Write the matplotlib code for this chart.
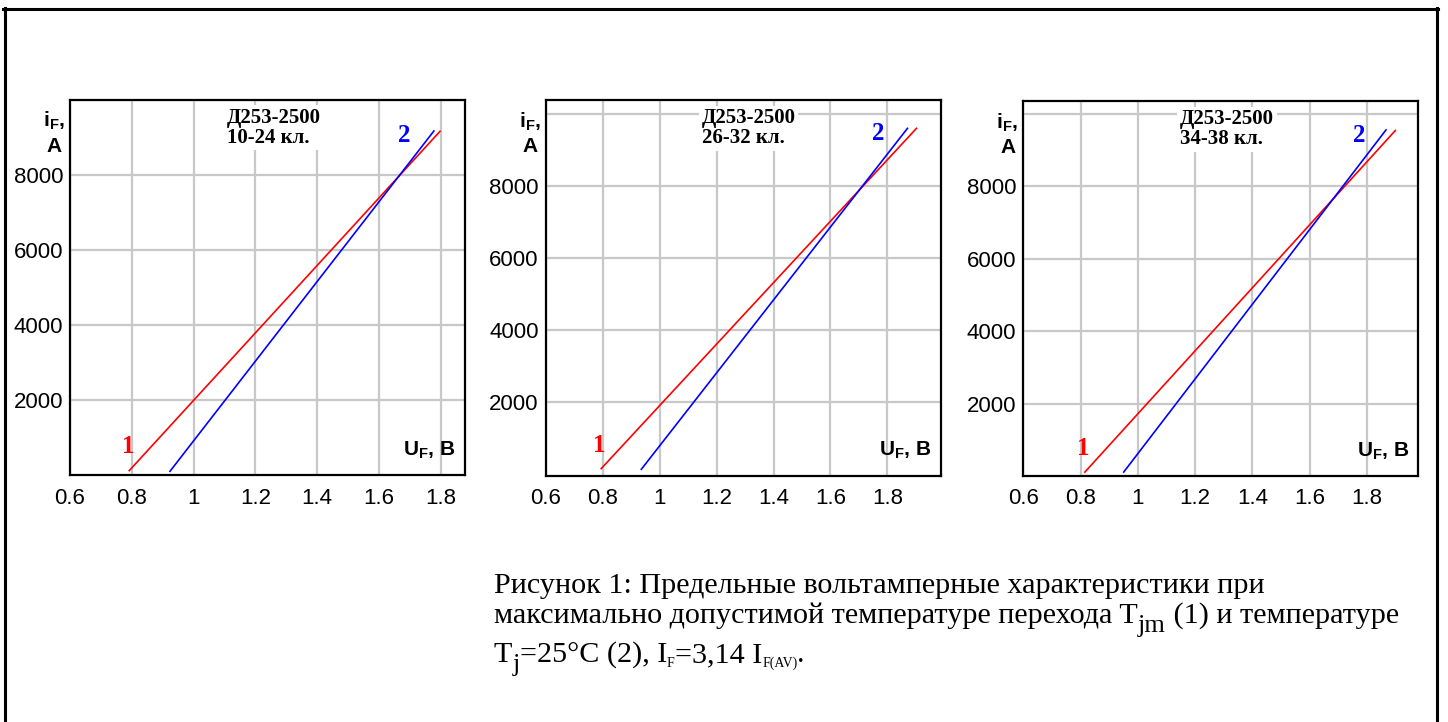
import matplotlib
matplotlib.use("Agg")
import matplotlib.pyplot as plt
from matplotlib.lines import Line2D

plt.rcParams['mathtext.fontset'] = 'custom'
plt.rcParams['mathtext.rm'] = 'Liberation Sans'
plt.rcParams['mathtext.bf'] = 'Liberation Sans:bold'

W, H = 1448, 722

# ---------------- data ----------------
titles = ["Д253-2500\n10-24 кл.", "Д253-2500\n26-32 кл.", "Д253-2500\n34-38 кл."]
x_ticks = [0.6, 0.8, 1.0, 1.2, 1.4, 1.6, 1.8]
x_ticklabels = ["0.6", "0.8", "1", "1.2", "1.4", "1.6", "1.8"]
y_ticks = [2000, 4000, 6000, 8000, 10000]
y_ticklabels = ["2000", "4000", "6000", "8000", ""]

# curve 1 (Tjm, red)
uf_tjm = [[0.79, 1.80], [0.793, 1.904], [0.813, 1.902]]
if_tjm = [[100, 9170], [130, 9620], [90, 9564]]
# curve 2 (Tj = 25 C, blue)
uf_25 = [[0.922, 1.78], [0.934, 1.872], [0.949, 1.869]]
if_25 = [[80, 9180], [110, 9620], [90, 9580]]

# label positions (data)
lab1_pos = [(0.79, 750), (0.787, 790), (0.81, 760)]
lab2_pos = [(1.683, 9050), (1.768, 9450), (1.775, 9400)]
title_x = [1.108, 1.148, 1.148]

# ---------------- layout ----------------
panels_px = [  # left, right, top, bottom
    (70, 465, 99.5, 475),
    (545.7, 941, 100, 475.7),
    (1023.3, 1418.3, 101, 476),
]
xlims = [(0.6, 1.879), (0.6, 1.988), (0.6, 1.980)]
ylims = [(0, 9910), (-50, 10390), (0, 10360)]

RED = "#ff0000"
BLUE = "#0000ff"
GRID = "#c8c8c8"

fig = plt.figure(figsize=(W / 100, H / 100), dpi=100)
fig.patch.set_facecolor("white")

for i, (l, r, t, b) in enumerate(panels_px):
    ax = fig.add_axes([l / W, 1 - b / H, (r - l) / W, (b - t) / H])
    ax.set_xlim(*xlims[i])
    ax.set_ylim(*ylims[i])
    ax.set_xticks(x_ticks)
    ax.set_xticklabels(x_ticklabels)
    ax.set_yticks(y_ticks)
    ax.set_yticklabels(y_ticklabels)
    ax.tick_params(length=0, labelsize=16)
    ax.tick_params(axis='x', pad=9)
    ax.tick_params(axis='y', pad=5)
    for lab in ax.get_xticklabels() + ax.get_yticklabels():
        lab.set_family("Liberation Sans")
    ax.grid(True, color=GRID, linewidth=1.6)
    ax.set_axisbelow(True)
    for s in ax.spines.values():
        s.set_linewidth(1.6)
        s.set_color("black")

    ax.plot(uf_tjm[i], if_tjm[i], color=RED, linewidth=1.2, solid_capstyle='butt')
    ax.plot(uf_25[i], if_25[i], color=BLUE, linewidth=1.2, solid_capstyle='butt')

    ax.text(lab1_pos[i][0], lab1_pos[i][1], "1", color=RED, fontsize=18,
            fontweight='bold', family="Liberation Serif", ha='center', va='center')
    ax.text(lab2_pos[i][0], lab2_pos[i][1], "2", color=BLUE, fontsize=18,
            fontweight='bold', family="Liberation Serif", ha='center', va='center')

    ax.text(title_x[i], 0.978, titles[i], transform=ax.get_xaxis_transform(),
            fontsize=15, fontweight='bold', family="Liberation Serif",
            ha='left', va='top', linespacing=1.0,
            bbox=dict(facecolor='white', edgecolor='none', pad=2))

    # axis labels
    ax.annotate(r"$\mathbf{i}_\mathbf{F}$,", xy=(0, 1), xycoords='axes fraction',
                xytext=(-5, -10), textcoords='offset pixels', ha='right', va='top',
                fontsize=15, fontweight='bold', family="Liberation Sans")
    ax.annotate("A", xy=(0, 1), xycoords='axes fraction',
                xytext=(-8, -37), textcoords='offset pixels', ha='right', va='top',
                fontsize=15, fontweight='bold', family="Liberation Sans")
    ax.annotate(r"$\mathbf{U}_\mathbf{F}$, B", xy=(1, 0), xycoords='axes fraction',
                xytext=(-9, 20), textcoords='offset pixels', ha='right', va='baseline',
                fontsize=15, fontweight='bold', family="Liberation Sans")

# outer frame (top, left, right)
fig.add_artist(Line2D([3 / W, 1438 / W], [1 - 8.5 / H, 1 - 8.5 / H],
                      transform=fig.transFigure, color='black', linewidth=2.2))
fig.add_artist(Line2D([4.5 / W, 4.5 / W], [1 - 7.5 / H, 0],
                      transform=fig.transFigure, color='black', linewidth=2.2))
fig.add_artist(Line2D([1436.5 / W, 1436.5 / W], [1 - 7.5 / H, 0],
                      transform=fig.transFigure, color='black', linewidth=2.2))

# caption with sub-scripts drawn as runs
renderer = fig.canvas.get_renderer()
CAP = 21.7


def draw_runs(x0, y0, runs):
    x = x0
    for txt, size, dy in runs:
        t = fig.text(x / W, 1 - (y0 + dy) / H, txt, fontsize=size,
                     family="Liberation Serif", ha='left', va='baseline')
        bb = t.get_window_extent(renderer=renderer)
        x += bb.width


draw_runs(494, 593, [("Рисунок 1: Предельные вольтамперные характеристики при", CAP, 0)])
draw_runs(494, 623, [("максимально допустимой температуре перехода T", CAP, 0),
                     ("jm", 19, 9),
                     (" (1) и температуре", CAP, 0)])
draw_runs(494, 662, [("T", CAP, 0), ("j", 19, 9),
                     ("=25°C (2), I", CAP, 0), ("F", 10, 5),
                     ("=3,14 I", CAP, 0), ("F(AV)", 10, 5), (".", CAP, 0)])

fig.savefig("out.png", dpi=100)
